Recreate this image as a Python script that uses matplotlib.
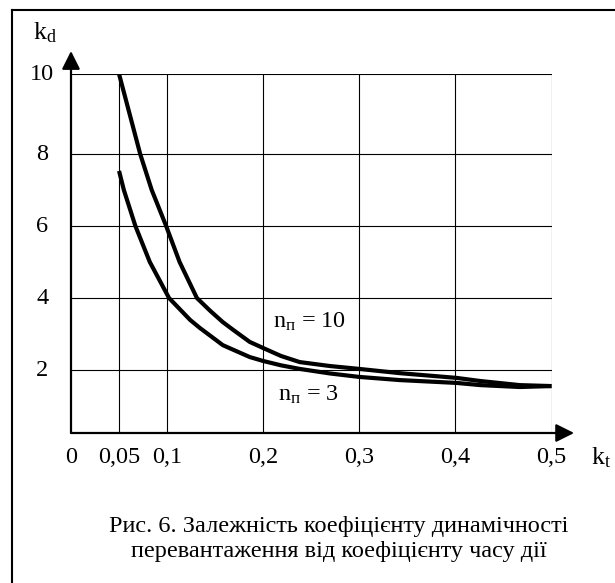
import numpy as np
import matplotlib
matplotlib.use("Agg")
import matplotlib.pyplot as plt
from matplotlib.lines import Line2D
import matplotlib.transforms as mtransforms

plt.rcParams['font.family'] = ['Liberation Serif', 'DejaVu Serif']
plt.rcParams['mathtext.fontset'] = 'custom'
plt.rcParams['mathtext.rm'] = 'Liberation Serif'
plt.rcParams['mathtext.it'] = 'Liberation Serif:italic'

# ------ data ------
kt_10 = [0.05, 0.072, 0.084, 0.099, 0.113, 0.131, 0.145, 0.158, 0.169, 0.186, 0.200, 0.2185,
         0.238, 0.2695, 0.300, 0.342, 0.401, 0.426, 0.467, 0.5]
kd_10 = [10.0, 8.0, 7.0, 6.0, 5.0, 4.0, 3.64, 3.33, 3.11, 2.78, 2.61, 2.39,
         2.22, 2.11, 2.03, 1.90, 1.75, 1.65, 1.52, 1.49]

kt_3 = [0.05, 0.055, 0.067, 0.082, 0.102, 0.124, 0.134, 0.158, 0.169, 0.186, 0.200, 0.2185,
        0.238, 0.2695, 0.300, 0.342, 0.401, 0.426, 0.467, 0.5]
kd_3 = [7.53, 7.0, 6.0, 5.0, 4.0, 3.39, 3.17, 2.69, 2.56, 2.36, 2.25, 2.13,
        2.03, 1.89, 1.78, 1.68, 1.59, 1.52, 1.46, 1.49]

x_ticks = [0, 0.05, 0.1, 0.2, 0.3, 0.4, 0.5]
x_labels = ['0', '0,05', '0,1', '0,2', '0,3', '0,4', '0,5']
y_ticks = [2, 4, 6, 8, 10]
y_labels = ['2', '4', '6', '8', '10']

caption = "Рис. 6. Залежність коефіцієнту динамічності\nперевантаження від коефіцієнту часу дії"

# the original grid is hand drawn with uneven rows, so the y scale is piecewise
y_scale_vals = [0, 2, 4, 6, 8, 10]
y_scale_pos = [0, 63, 135, 207, 279, 359]

def fwd(v):
    return np.interp(v, y_scale_vals, y_scale_pos)

def inv(p):
    return np.interp(p, y_scale_pos, y_scale_vals)

# ------ figure ------
W, H = 615, 583
fig = plt.figure(figsize=(W / 100, H / 100), dpi=100)
ax = fig.add_axes([71 / W, (H - 433) / H, 480.5 / W, 359 / H])
ax.set_yscale('function', functions=(fwd, inv))
ax.set_xlim(0, 0.5)
ax.set_ylim(0, 10)

for s in ax.spines.values():
    s.set_visible(False)

# grid
for x in [0.05, 0.1, 0.2, 0.3, 0.4, 0.5]:
    ax.plot([x, x], [0, 10], color='black', lw=0.8)
for y in y_ticks:
    ax.plot([0, 0.5], [y, y], color='black', lw=0.8)

# curves
ax.plot(kt_10, kd_10, color='black', lw=3, solid_capstyle='butt', solid_joinstyle='round')
ax.plot(kt_3, kd_3, color='black', lw=3, solid_capstyle='butt', solid_joinstyle='round')

# axes with arrows
arr = dict(arrowstyle='-|>,head_length=1.1,head_width=0.55', lw=1.6, color='black',
           shrinkA=0, shrinkB=0, mutation_scale=10)
ax.annotate('', xy=(1.047, 0), xytext=(0, 0), xycoords='axes fraction', arrowprops=arr)
ax.annotate('', xy=(0, 1.064), xytext=(0, 0), xycoords='axes fraction', arrowprops=arr)

ax.set_xticks(x_ticks)
ax.set_xticklabels(x_labels, fontsize=17.5)
ax.tick_params(axis='x', length=0, pad=10)
ax.set_yticks([])

trans = mtransforms.blended_transform_factory(ax.transAxes, ax.transData)
for v, lab in zip(y_ticks, y_labels):
    ax.text(-0.06, v, lab, transform=trans, ha='center', va='center', fontsize=17.5)

ax.text(1.103, -0.068, r'$\mathrm{k_t}$', transform=ax.transAxes, ha='center', va='center', fontsize=18.5)
ax.text(-0.055, 1.114, r'$\mathrm{k_d}$', transform=ax.transAxes, ha='center', va='center', fontsize=18.5)

ax.text(0.248, 3.33, r'n$_\mathrm{п}$ = 10', ha='center', va='center', fontsize=17.5)
ax.text(0.247, 1.21, r'n$_\mathrm{п}$ = 3', ha='center', va='center', fontsize=17.5)

fig.text(339 / W, 1 - 539 / H, caption, ha='center', va='center', fontsize=17.5, linespacing=1.2)

# frame of the figure
fig.add_artist(Line2D([12 / W, 12 / W], [0, 1 - 10 / H], color='black', lw=1.5))
fig.add_artist(Line2D([12 / W, 1], [1 - 10 / H, 1 - 10 / H], color='black', lw=1.5))

fig.savefig('out.png', dpi=100)
